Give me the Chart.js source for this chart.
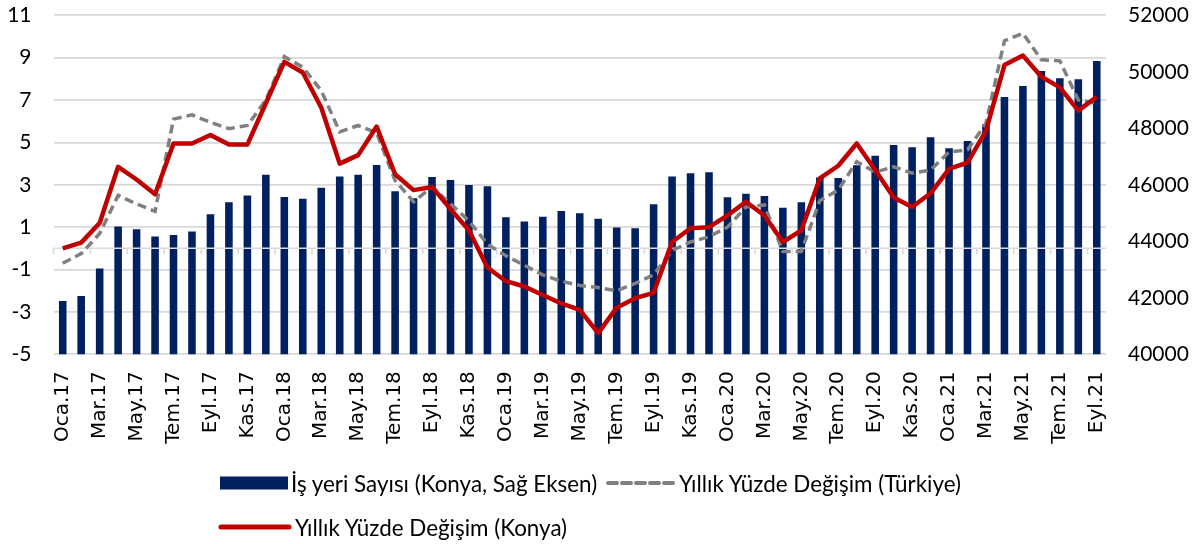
<!DOCTYPE html>
<html>
<head>
<meta charset="utf-8">
<script src="https://cdn.jsdelivr.net/npm/chart.js@4.4.0/dist/chart.umd.min.js"></script>
<style>
  html, body { margin: 0; padding: 0; background: #fff; }
  #wrap { position: relative; width: 1203px; height: 544px; }
  #legend { position: absolute; left: 0; top: 0; width: 1203px; height: 544px; pointer-events: none;
            font-family: Lato, sans-serif; font-size: 22.4px; color: #000; }
  .item { position: absolute; display: flex; align-items: center; white-space: nowrap; }
  .item svg { display: block; margin-right: 3px; }
</style>
</head>
<body>
<div id="wrap">
  <canvas id="myChart" width="1203" height="544"></canvas>
  <div id="legend"></div>
</div>
<script>
const labels = [
  'Oca.17','Şub.17','Mar.17','Nis.17','May.17','Haz.17','Tem.17','Ağu.17','Eyl.17','Eki.17','Kas.17','Ara.17',
  'Oca.18','Şub.18','Mar.18','Nis.18','May.18','Haz.18','Tem.18','Ağu.18','Eyl.18','Eki.18','Kas.18','Ara.18',
  'Oca.19','Şub.19','Mar.19','Nis.19','May.19','Haz.19','Tem.19','Ağu.19','Eyl.19','Eki.19','Kas.19','Ara.19',
  'Oca.20','Şub.20','Mar.20','Nis.20','May.20','Haz.20','Tem.20','Ağu.20','Eyl.20','Eki.20','Kas.20','Ara.20',
  'Oca.21','Şub.21','Mar.21','Nis.21','May.21','Haz.21','Tem.21','Ağu.21','Eyl.21'
];

// İş yeri sayısı (Konya) - sağ eksen
const isyeriKonya = [
  41890, 42060, 43040, 44520, 44430, 44170, 44220, 44350, 44960, 45380, 45620, 46360,
  45570, 45510, 45900, 46290, 46360, 46700, 45770, 45520, 46280, 46170, 45990, 45950,
  44850, 44700, 44870, 45070, 44990, 44800, 44490, 44460, 45310, 46290, 46410, 46440,
  45560, 45680, 45600, 45190, 45380, 46260, 46240, 46690, 47030, 47410, 47330, 47680,
  47290, 47550, 48140, 49110, 49500, 50030, 49770, 49740, 50380
];

// yıllık % değişim - Türkiye
const degisimTurkiye = [
  -0.7, -0.25, 0.7, 2.5, 2.1, 1.75, 6.1, 6.3, 5.95, 5.65, 5.8, 7.0,
  9.05, 8.55, 7.45, 5.5, 5.8, 5.45, 3.2, 2.2, 2.9, 2.1, 1.3, 0.2,
  -0.35, -0.8, -1.25, -1.55, -1.75, -1.85, -2.0, -1.65, -1.25, -0.1, 0.3, 0.55,
  1.0, 1.95, 2.05, -0.15, -0.15, 2.25, 2.75, 4.1, 3.6, 3.85, 3.55, 3.7,
  4.55, 4.65, 5.9, 9.8, 10.15, 8.9, 8.85, 7.0, 6.85
];

// yıllık % değişim - Konya
const degisimKonya = [
  0.0, 0.27, 1.2, 3.85, 3.25, 2.55, 4.95, 4.95, 5.35, 4.9, 4.9, 6.85,
  8.8, 8.3, 6.65, 4.0, 4.4, 5.75, 3.5, 2.75, 2.9, 1.85, 0.85, -0.9,
  -1.55, -1.8, -2.2, -2.6, -2.9, -4.0, -2.8, -2.35, -2.1, 0.3, 0.95, 1.0,
  1.55, 2.2, 1.55, 0.3, 0.85, 3.3, 3.9, 4.95, 3.7, 2.4, 1.95, 2.6,
  3.75, 4.05, 5.55, 8.65, 9.1, 8.1, 7.6, 6.5, 7.15
];

const leftTicks = [-5, 11, 2];
const rightTicks = [40000, 52000, 2000];

const BLUE = '#002060';
const RED = '#c00000';
const GRAY = '#808080';
const GRID = '#d9d9d9';

// zero line with small tick marks, drawn over the bars but under the lines
const zeroAxis = {
  id: 'zeroAxis',
  afterDatasetDraw(chart, args) {
    if (args.index !== 0) return;
    const {ctx, chartArea} = chart;
    const y = chart.scales.y.getPixelForValue(0);
    const step = chartArea.width / labels.length;
    ctx.save();
    ctx.strokeStyle = GRID;
    ctx.lineWidth = 1.5;
    ctx.beginPath();
    ctx.moveTo(chartArea.left, y);
    ctx.lineTo(chartArea.right, y);
    for (let i = 0; i <= labels.length; i += 2) {
      const px = chartArea.left + i * step;
      ctx.moveTo(px, y);
      ctx.lineTo(px, y + 6);
    }
    ctx.stroke();
    ctx.restore();
  }
};

const tickFont = {family: 'Lato', size: 21};

// fixed axis widths; drop the tick padding chart.js adds above/below vertical axes
const fitY = w => s => { s.width = w; s.paddingTop = 0; s.paddingBottom = 0; };

new Chart(document.getElementById('myChart').getContext('2d'), {
  type: 'bar',
  data: {
    labels: labels,
    datasets: [
      {
        type: 'bar',
        label: 'İş yeri Sayısı (Konya, Sağ Eksen)',
        data: isyeriKonya,
        backgroundColor: BLUE,
        yAxisID: 'y1',
        categoryPercentage: 1,
        barPercentage: 0.41,
        order: 3
      },
      {
        type: 'line',
        label: 'Yıllık Yüzde Değişim (Türkiye)',
        data: degisimTurkiye,
        borderColor: GRAY,
        borderWidth: 3.5,
        borderDash: [9, 5],
        pointRadius: 0,
        tension: 0,
        yAxisID: 'y',
        order: 2
      },
      {
        type: 'line',
        label: 'Yıllık Yüzde Değişim (Konya)',
        data: degisimKonya,
        borderColor: RED,
        borderWidth: 4.5,
        pointRadius: 0,
        tension: 0,
        borderJoinStyle: 'round',
        yAxisID: 'y',
        order: 1
      }
    ]
  },
  options: {
    responsive: false,
    animation: false,
    devicePixelRatio: 1,
    layout: {padding: {top: 15.3, bottom: 0, left: 0, right: 0}},
    plugins: {
      legend: {display: false},
      tooltip: {enabled: false}
    },
    scales: {
      x: {
        grid: {display: false, drawTicks: false},
        border: {display: false},
        ticks: {
          autoSkip: false,
          maxRotation: 90,
          minRotation: 90,
          padding: 17,
          color: '#000',
          font: {family: 'DejaVu Sans', size: 20},
          callback: (v, i) => (i % 2 === 0 ? labels[i] : '')
        },
        afterFit: s => { s.height = 544 - 354.3; }
      },
      y: {
        position: 'left',
        min: leftTicks[0],
        max: leftTicks[1],
        ticks: {stepSize: leftTicks[2], padding: 22, color: '#000', font: tickFont},
        grid: {color: GRID, lineWidth: 1.8, drawTicks: false},
        border: {display: false},
        afterFit: fitY(53.5)
      },
      y1: {
        position: 'right',
        min: rightTicks[0],
        max: rightTicks[1],
        ticks: {stepSize: rightTicks[2], padding: 22, color: '#000', font: tickFont,
                callback: v => String(v)},
        grid: {display: false, drawTicks: false},
        border: {display: false},
        afterFit: fitY(97)
      }
    }
  },
  plugins: [zeroAxis]
});

// legend, laid out like the original (two rows, left aligned)
const legendItems = [
  {text: 'İş yeri Sayısı (Konya, Sağ Eksen)', kind: 'bar', x: 220, y: 483},
  {text: 'Yıllık Yüzde Değişim (Türkiye)', kind: 'dash', x: 606, y: 483},
  {text: 'Yıllık Yüzde Değişim (Konya)', kind: 'line', x: 218, y: 527}
];
const legendEl = document.getElementById('legend');
legendItems.forEach(it => {
  const d = document.createElement('div');
  d.className = 'item';
  d.style.left = it.x + 'px';
  d.style.top = (it.y - 14) + 'px';
  d.style.height = '28px';
  let sw = '';
  if (it.kind === 'bar') {
    sw = `<svg width="68" height="14"><rect x="0" y="0.5" width="68" height="13" fill="${BLUE}"/></svg>`;
  } else if (it.kind === 'dash') {
    sw = `<svg width="70" height="8"><line x1="2" y1="4" x2="70" y2="4" stroke="${GRAY}" stroke-width="4" stroke-dasharray="9 5" stroke-linecap="round"/></svg>`;
  } else {
    sw = `<svg width="74" height="8"><line x1="3" y1="4" x2="71" y2="4" stroke="${RED}" stroke-width="5" stroke-linecap="round"/></svg>`;
  }
  d.innerHTML = sw + '<span>' + it.text + '</span>';
  legendEl.appendChild(d);
});
</script>
</body>
</html>
